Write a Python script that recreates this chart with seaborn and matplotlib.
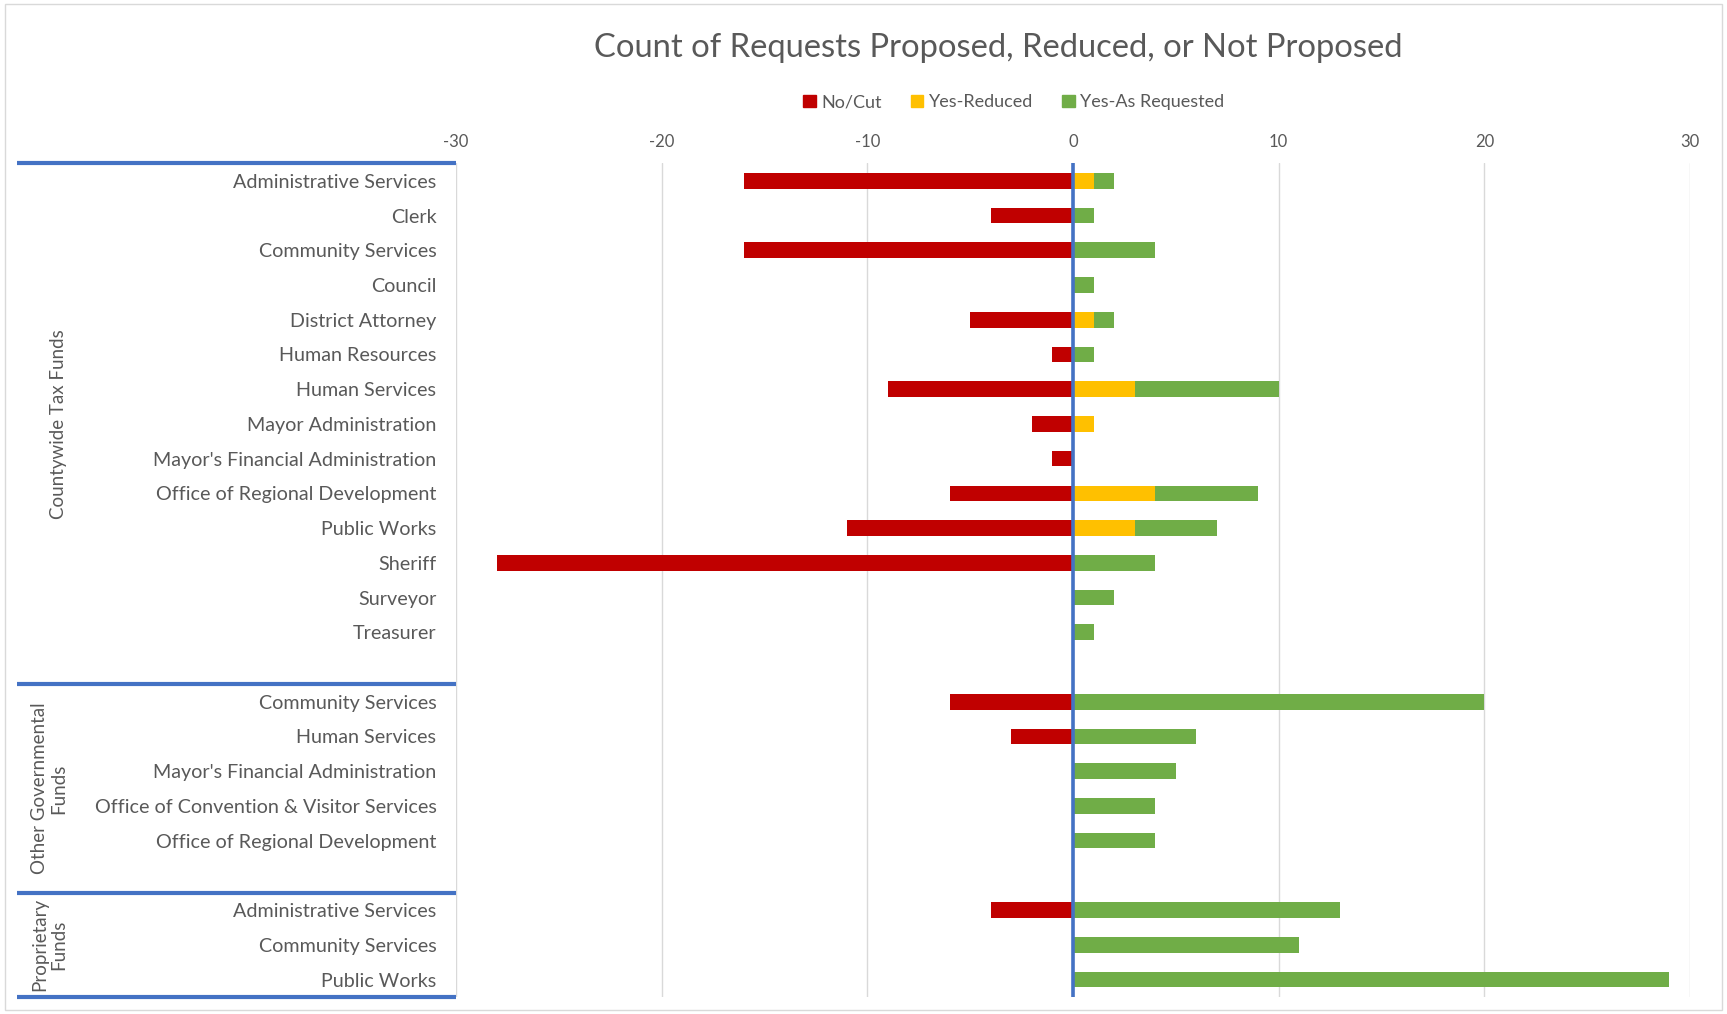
import pandas as pd
import matplotlib.pyplot as plt
import matplotlib.transforms as mtransforms
from matplotlib.patches import Patch, Rectangle
import seaborn as sns

# --- data ---
groups = ["Countywide Tax Funds", "Other Governmental\nFunds", "Proprietary\nFunds"]

countywide_depts = ["Administrative Services", "Clerk", "Community Services", "Council",
                    "District Attorney", "Human Resources", "Human Services",
                    "Mayor Administration", "Mayor's Financial Administration",
                    "Office of Regional Development", "Public Works", "Sheriff",
                    "Surveyor", "Treasurer"]
countywide_cut = [-16, -4, -16, 0, -5, -1, -9, -2, -1, -6, -11, -28, 0, 0]
countywide_reduced = [1, 0, 0, 0, 1, 0, 3, 1, 0, 4, 3, 0, 0, 0]
countywide_asreq = [1, 1, 4, 1, 1, 1, 7, 0, 0, 5, 4, 4, 2, 1]

other_depts = ["Community Services", "Human Services", "Mayor's Financial Administration",
               "Office of Convention & Visitor Services", "Office of Regional Development"]
other_cut = [-6, -3, 0, 0, 0]
other_reduced = [0, 0, 0, 0, 0]
other_asreq = [20, 6, 5, 4, 4]

prop_depts = ["Administrative Services", "Community Services", "Public Works"]
prop_cut = [-4, 0, 0]
prop_reduced = [0, 0, 0]
prop_asreq = [13, 11, 29]

xticks = [-30, -20, -10, 0, 10, 20, 30]

RED, YELLOW, GREEN, BLUE = "#C00000", "#FFC000", "#70AD47", "#4472C4"
TXT = "#595959"

# build rows (blank spacer row after the first two groups)
rows = []
labels = []
order = []
spans = []
blocks = [(countywide_depts, countywide_cut, countywide_reduced, countywide_asreq, True),
          (other_depts, other_cut, other_reduced, other_asreq, True),
          (prop_depts, prop_cut, prop_reduced, prop_asreq, False)]
for g, (depts, cut, red, asreq, spacer) in zip(groups, blocks):
    start = len(order)
    for d, c, r, a in zip(depts, cut, red, asreq):
        key = "r%d" % len(order)
        order.append(key)
        labels.append(d)
        rows.append({"row": key, "cut": c, "reduced": r, "total": r + a})
    if spacer:
        order.append("r%d" % len(order))
        labels.append("")
    spans.append((g, start - 0.5, len(order) - 0.5))
df = pd.DataFrame(rows)

sns.set_style("white")
plt.rcParams["font.family"] = ["Lato", "DejaVu Sans"]
plt.rcParams["axes.unicode_minus"] = False

fig = plt.figure(figsize=(17.27, 10.14), dpi=100)
ax = fig.add_axes([0.264, 0.0168, 0.7146, 0.822])

bw = 0.45
sns.barplot(data=df, x="total", y="row", order=order, color=GREEN, width=bw,
            errorbar=None, orient="h", saturation=1, linewidth=0, ax=ax)
sns.barplot(data=df, x="reduced", y="row", order=order, color=YELLOW, width=bw,
            errorbar=None, orient="h", saturation=1, linewidth=0, ax=ax)
sns.barplot(data=df, x="cut", y="row", order=order, color=RED, width=bw,
            errorbar=None, orient="h", saturation=1, linewidth=0, ax=ax)

ax.set_xlim(-30, 30)
ax.set_ylim(len(order) - 0.5, -0.5)
ax.set_xticks(xticks)
ax.xaxis.tick_top()
ax.tick_params(axis="x", length=0, pad=10, labelsize=12, labelcolor=TXT)
ax.set_yticks(range(len(order)))
ax.set_yticklabels(labels)
ax.tick_params(axis="y", length=0, pad=14, labelsize=14.2, labelcolor=TXT)
ax.set_xlabel("")
ax.set_ylabel("")
ax.grid(axis="x", color="#D9D9D9", linewidth=1)
ax.set_axisbelow(True)
for s in ax.spines.values():
    s.set_visible(False)
ax.axvline(0, color=BLUE, linewidth=2.6, zorder=5)

# group dividers and group labels
trans = mtransforms.blended_transform_factory(ax.transAxes, ax.transData)
x_left = (17 - 456) / 1234
edges = sorted({e for _, a, b in spans for e in (a, b)})
for e in edges:
    ax.plot([x_left, 0], [e, e], color=BLUE, linewidth=3, transform=trans,
            clip_on=False, solid_capstyle="butt")
for g, a, b in spans:
    ax.text(-0.315, (a + b) / 2, g, transform=trans, rotation=90, ha="right",
            va="center", ma="center", fontsize=13.5, color=TXT, linespacing=1.15,
            clip_on=False)

fig.text(0.578, 0.953, "Count of Requests Proposed, Reduced, or Not Proposed",
         ha="center", va="center", fontsize=23.6, color=TXT)
handles = [Patch(color=RED, label="No/Cut"), Patch(color=YELLOW, label="Yes-Reduced"),
           Patch(color=GREEN, label="Yes-As Requested")]
fig.legend(handles=handles, loc="center", bbox_to_anchor=(0.587, 0.899), ncol=3,
           frameon=False, fontsize=13, handlelength=0.7, handleheight=0.7,
           handletextpad=0.3, columnspacing=1.6, labelcolor=TXT)

fig.patches.append(Rectangle((0.003, 0.004), 0.994, 0.992, transform=fig.transFigure,
                             fill=False, edgecolor="#D9D9D9", linewidth=1))

fig.savefig("out.png", dpi=100)
